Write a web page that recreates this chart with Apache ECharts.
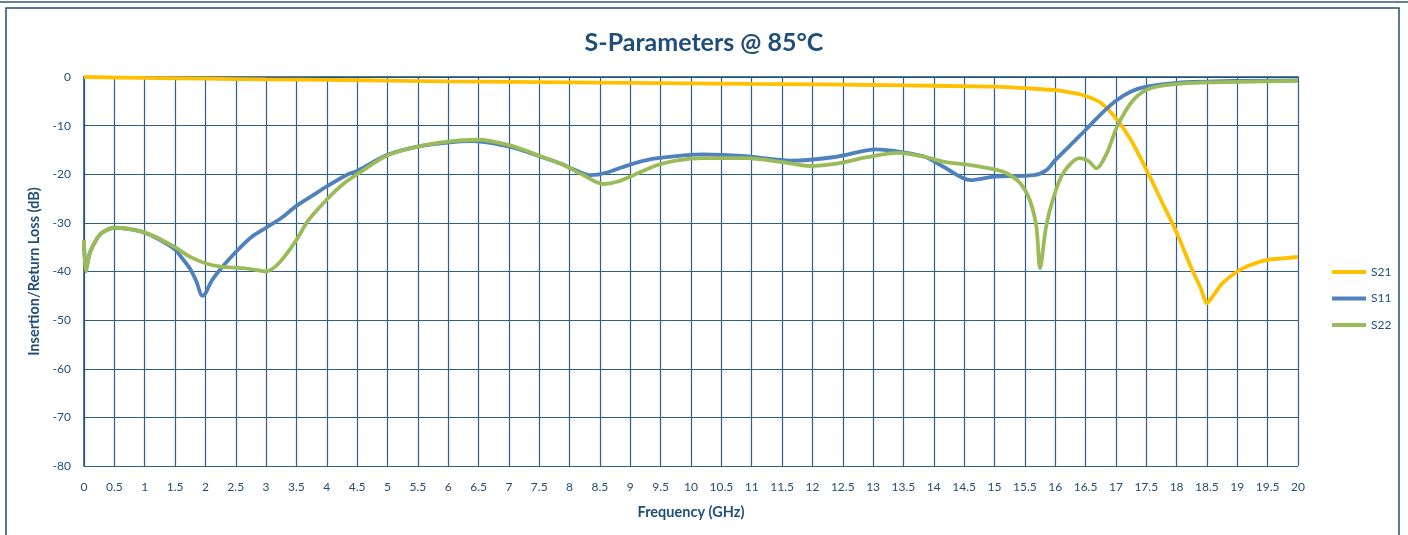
<!DOCTYPE html>
<html>
<head>
<meta charset="utf-8">
<script src="https://cdn.jsdelivr.net/npm/echarts@6/dist/echarts.min.js"></script>
<style>
html,body{margin:0;padding:0;background:#fff;}
#chart{width:1408px;height:535px;}
</style>
</head>
<body>
<div id="chart"></div>
<script>
const titleText = 'S-Parameters @ 85°C';
const seriesNames = ['S21', 'S11', 'S22'];
const xName = 'Frequency (GHz)';
const yName = 'Insertion/Return Loss (dB)';

const freqS21 = [0,1,2,3,4,5,6,7,8,9,10,11,12,13,14,14.5,15,15.5,16,16.25,16.5,16.75,17,17.25,17.5,17.75,18,18.25,18.4,18.5,18.6,18.75,19,19.25,19.5,19.75,20];
const s21 = [0,-0.2,-0.35,-0.5,-0.6,-0.75,-0.9,-1.0,-1.1,-1.2,-1.3,-1.4,-1.5,-1.65,-1.8,-1.9,-2.0,-2.3,-2.7,-3.2,-3.9,-5.3,-8.5,-13,-19,-25.5,-32,-39.5,-43.5,-46.5,-45,-42.5,-40,-38.5,-37.6,-37.3,-37];

const freqS11 = [0,0.03,0.1,0.2,0.3,0.5,0.75,1.0,1.25,1.5,1.6,1.75,1.85,1.95,2.0,2.1,2.25,2.5,2.75,3.0,3.25,3.5,3.75,4.0,4.35,4.5,5.0,5.5,6.0,6.4,7.0,7.25,7.5,7.85,8.1,8.35,8.6,9.05,9.45,10.2,10.9,11.65,12.4,13.05,13.5,13.85,14.15,14.6,15.0,15.65,15.85,16.0,16.25,16.5,16.75,17.0,17.25,17.5,18.0,19.0,20];
const s11 = [-34,-39.5,-36,-33.5,-32,-31,-31.3,-32,-33.5,-35.5,-37,-39.5,-42,-45,-44.5,-42,-39.5,-36,-33,-31,-29,-26.5,-24.5,-22.5,-20,-19.3,-16,-14.3,-13.5,-13.2,-14.3,-15.2,-16.3,-17.8,-19.2,-20.2,-19.7,-17.8,-16.7,-15.9,-16.3,-17.2,-16.4,-14.9,-15.5,-16.4,-18.4,-21.2,-20.5,-20.2,-19.2,-17.1,-14,-10.9,-7.7,-4.9,-3,-2.0,-1.2,-0.8,-0.7];

const freqS22 = [0,0.03,0.1,0.2,0.3,0.5,0.75,1.0,1.25,1.5,1.75,2.0,2.25,2.5,2.75,3.0,3.15,3.3,3.5,3.7,4.0,4.25,4.5,5.0,5.5,6.0,6.5,7.0,7.25,7.5,7.85,8.2,8.55,8.8,9.05,9.45,9.8,10.2,10.9,11.5,11.95,12.4,12.9,13.4,13.85,14.15,14.6,15.0,15.2,15.42,15.58,15.69,15.75,15.85,15.96,16.13,16.4,16.55,16.68,16.85,17.02,17.29,17.57,18.12,19,20];
const s22 = [-33.5,-40,-36,-33.5,-32,-31,-31.3,-32,-33.3,-35,-37,-38.3,-39,-39.2,-39.5,-40,-39,-37,-33.5,-29.4,-25.2,-22.2,-20,-16.1,-14.3,-13.3,-12.9,-14.0,-15.0,-16.2,-17.8,-20,-22,-21.5,-20.2,-18.1,-17.1,-16.7,-16.7,-17.5,-18.3,-17.8,-16.5,-15.6,-16.4,-17.4,-18.1,-19,-19.8,-21.8,-25.3,-30.8,-39.3,-30.8,-25.3,-19.8,-16.7,-17.3,-18.8,-15.7,-10.2,-4.7,-2.3,-1.3,-1.0,-0.8];

const colors = ['#FFC000', '#4F81BD', '#9BBB59'];
const textColor = '#1F4E79';
const gridColor = '#2F5D8C';
const font = 'Lato, "Open Sans", sans-serif';

const pair = (f, v) => f.map((x, i) => [x, v[i]]);
const seriesData = [pair(freqS21, s21), pair(freqS11, s11), pair(freqS22, s22)];

const chart = echarts.init(document.getElementById('chart'));
chart.setOption({
  animation: false,
  backgroundColor: '#fff',
  textStyle: { fontFamily: font },
  graphic: [
    { type: 'line', shape: { x1: 0, y1: 2, x2: 1408, y2: 2 }, style: { stroke: '#6A7FA0', lineWidth: 2 } },
    { type: 'rect', shape: { x: 6, y: 8, width: 1393, height: 540 }, style: { fill: 'none', stroke: '#1F4E79', lineWidth: 1.5 } }
  ],
  title: {
    text: titleText,
    left: 'center',
    top: 25,
    textStyle: { color: textColor, fontSize: 25, fontWeight: 'bold', fontFamily: font }
  },
  legend: {
    orient: 'vertical',
    left: 1327,
    top: 261,
    icon: 'rect',
    itemWidth: 34,
    itemHeight: 4,
    itemGap: 14.5,
    textStyle: { color: textColor, fontSize: 12, fontFamily: font },
    data: seriesNames
  },
  grid: { left: 84, right: 110, top: 77, bottom: 69, containLabel: false },
  xAxis: {
    type: 'value',
    min: 0, max: 20, interval: 0.5,
    name: xName,
    nameLocation: 'middle',
    nameGap: 39,
    nameTextStyle: { color: textColor, fontSize: 14.5, fontWeight: 'bold', fontFamily: font },
    axisLine: { show: true, lineStyle: { color: '#1F4E79', width: 1.5 } },
    axisTick: { show: false },
    axisLabel: { color: textColor, fontSize: 12, margin: 15, fontFamily: font },
    splitLine: { show: true, lineStyle: { color: gridColor, width: 1.2 } }
  },
  yAxis: {
    type: 'value',
    min: -80, max: 0, interval: 10,
    name: yName,
    nameLocation: 'middle',
    nameGap: 41,
    nameTextStyle: { color: textColor, fontSize: 14.5, fontWeight: 'bold', fontFamily: font },
    axisLine: { show: true, lineStyle: { color: '#1F4E79', width: 1.5 } },
    axisTick: { show: false },
    axisLabel: { color: textColor, fontSize: 12, margin: 13, fontFamily: font },
    splitLine: { show: true, lineStyle: { color: gridColor, width: 1.2 } }
  },
  series: seriesNames.map((n, i) => ({
    name: n,
    type: 'line',
    data: seriesData[i],
    showSymbol: false,
    symbol: 'none',
    smooth: 0.3,
    color: colors[i],
    lineStyle: { color: colors[i], width: 3.8 },
    z: 2 + i
  }))
});
</script>
</body>
</html>
